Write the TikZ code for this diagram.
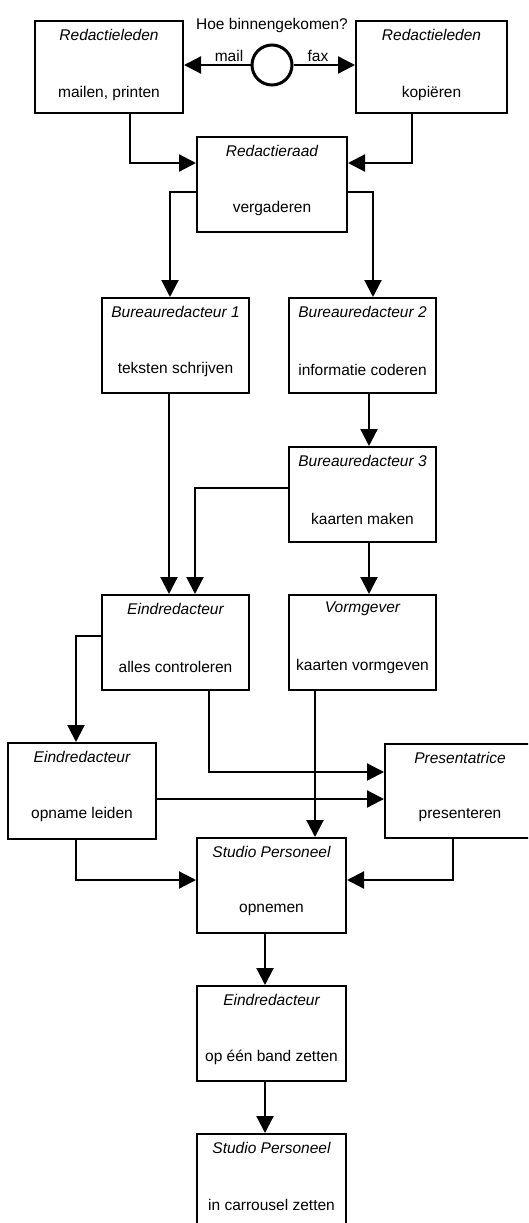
\documentclass[tikz,border=0pt]{standalone}
\usepackage{fontspec}
\setmainfont{Liberation Sans}
\usetikzlibrary{arrows.meta}
\tikzset{
  box/.style={draw, line width=2pt, rectangle, inner sep=0pt, minimum width=148pt, minimum height=95pt},
  ttl/.style={inner sep=0pt, font=\fontsize{15.5}{18}\selectfont\itshape},
  bdy/.style={inner sep=0pt, font=\fontsize{15.5}{18}\selectfont},
  arr/.style={line width=2.2pt, -{Triangle[length=17pt,width=17pt]}},
}
\begin{document}
\begin{tikzpicture}[x=1pt,y=-1pt]
\useasboundingbox (0,0) rectangle (528,1223);
\clip (0,0) rectangle (528,1223);
% boxes
\node[box, minimum width=148pt, minimum height=92pt] (A) at (109,67) {};
\node[box, minimum width=151pt, minimum height=92pt] (B) at (431.5,67) {};
\node[box, minimum width=150pt] (C) at (272,184.5) {};
\node[box, minimum width=147pt] (D) at (175.5,345.5) {};
\node[box, minimum width=147pt] (E) at (362.5,345.5) {};
\node[box, minimum width=147pt] (F) at (362.5,494.5) {};
\node[box, minimum width=147pt] (G) at (175.5,642.5) {};
\node[box, minimum width=147pt] (H) at (362.5,642.5) {};
\node[box, minimum width=148pt, minimum height=96pt] (I) at (82,791) {};
\node[box, minimum width=150pt, minimum height=94pt] (J) at (460,791) {};
\node[box, minimum width=149pt] (K) at (271.5,885.5) {};
\node[box, minimum width=149pt] (L) at (271.5,1033.5) {};
\node[box, minimum width=149pt] (M) at (271.5,1181.5) {};
% texts
\node[ttl] (At) at ([yshift=-15pt]A.north) {Redactieleden};
\node[bdy] (Ab) at ([yshift=-73pt]A.north) {mailen, printen};
\node[ttl] (Bt) at ([yshift=-15pt]B.north) {Redactieleden};
\node[bdy] (Bb) at ([yshift=-73pt]B.north) {kopiëren};
\node[ttl] (Ct) at ([yshift=-15pt]C.north) {Redactieraad};
\node[bdy] (Cb) at ([yshift=-72.5pt]C.north) {vergaderen};
\node[ttl] (Dt) at ([yshift=-15pt]D.north) {Bureauredacteur 1};
\node[bdy] (Db) at ([yshift=-72.5pt]D.north) {teksten schrijven};
\node[ttl] (Et) at ([yshift=-15pt]E.north) {Bureauredacteur 2};
\node[bdy] (Eb) at ([yshift=-72.5pt]E.north) {informatie coderen};
\node[ttl] (Ft) at ([yshift=-15pt]F.north) {Bureauredacteur 3};
\node[bdy] (Fb) at ([yshift=-72.5pt]F.north) {kaarten maken};
\node[ttl] (Gt) at ([yshift=-15pt]G.north) {Eindredacteur};
\node[bdy] (Gb) at ([yshift=-72.5pt]G.north) {alles controleren};
\node[ttl] (Ht) at ([yshift=-15pt]H.north) {Vormgever};
\node[bdy] (Hb) at ([yshift=-72.5pt]H.north) {kaarten vormgeven};
\node[ttl] (It) at ([yshift=-15pt]I.north) {Eindredacteur};
\node[bdy] (Ib) at ([yshift=-72.5pt]I.north) {opname leiden};
\node[ttl] (Jt) at ([yshift=-15pt]J.north) {Presentatrice};
\node[bdy] (Jb) at ([yshift=-72.5pt]J.north) {presenteren};
\node[ttl] (Kt) at ([yshift=-15pt]K.north) {Studio Personeel};
\node[bdy] (Kb) at ([yshift=-72.5pt]K.north) {opnemen};
\node[ttl] (Lt) at ([yshift=-15pt]L.north) {Eindredacteur};
\node[bdy] (Lb) at ([yshift=-72.5pt]L.north) {op één band zetten};
\node[ttl] (Mt) at ([yshift=-15pt]M.north) {Studio Personeel};
\node[bdy] (Mb) at ([yshift=-72pt]M.north) {in carrousel zetten};
% top circle
\node[draw, circle, line width=3pt, minimum size=40pt, inner sep=0pt] (O) at (272,65) {};
\node[bdy] (Q) at (272,25) {Hoe binnengekomen?};
\node[bdy] (mail) at (229,56) {mail};
\node[bdy] (fax) at (318,56) {fax};
\draw[arr] (O.west) -- (O.west -| A.east);
\draw[arr] (O.east) -- (O.east -| B.west);
% connectors
\draw[arr] ([xshift=21pt]A.south) |- ([yshift=21.5pt]C.west);
\draw[arr] ([xshift=-19.5pt]B.south) |- ([yshift=21.5pt]C.east);
\draw[arr] ([yshift=-7.5pt]C.west) -| ([xshift=-5.5pt]D.north);
\draw[arr] ([yshift=-7.5pt]C.east) -| ([xshift=10.5pt]E.north);
\draw[arr] ([xshift=6.5pt]E.south) -- ([xshift=6.5pt]F.north);
\draw[arr] ([xshift=-6.5pt]D.south) -- ([xshift=-6.5pt]G.north);
\draw[arr] ([yshift=6.5pt]F.west) -| ([xshift=19.5pt]G.north);
\draw[arr] ([xshift=6.5pt]F.south) -- ([xshift=6.5pt]H.north);
\draw[arr] ([yshift=6.5pt]G.west) -| ([xshift=-6pt]I.north);
\draw[arr] ([xshift=33.5pt]G.south) |- ([yshift=19pt]J.west);
\coordinate (i1) at ([yshift=-8pt]I.east);
\draw[arr] (i1) -- (i1 -| J.west);
\coordinate (h1) at ([xshift=-47.5pt]H.south);
\draw[arr] (h1) -- (h1 |- K.north);
\draw[arr] ([xshift=-6pt]I.south) |- ([yshift=5.5pt]K.west);
\draw[arr] ([xshift=-7pt]J.south) |- ([yshift=5.5pt]K.east);
\draw[arr] ([xshift=-6.5pt]K.south) -- ([xshift=-6.5pt]L.north);
\draw[arr] ([xshift=-6.5pt]L.south) -- ([xshift=-6.5pt]M.north);
\end{tikzpicture}
\end{document}
